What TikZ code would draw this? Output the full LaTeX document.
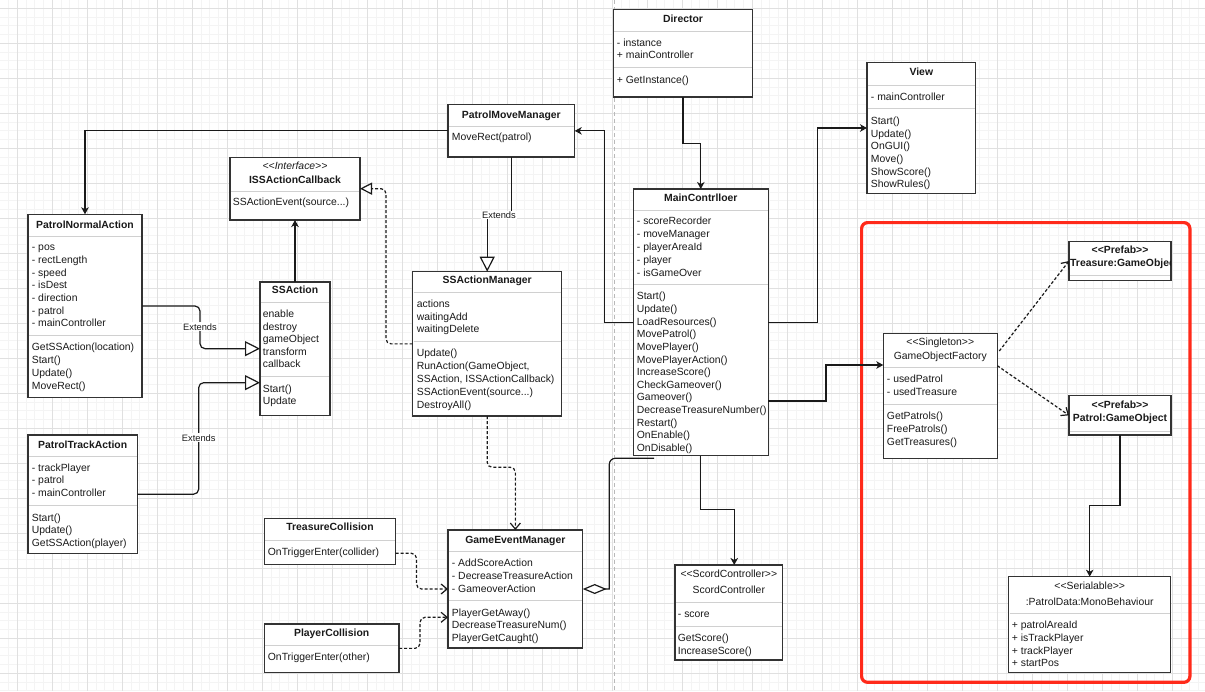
\documentclass[tikz,border=0pt]{standalone}
\usepackage{fontspec}
\setmainfont{Liberation Sans}[Ligatures=TeXOff]
\usetikzlibrary{arrows.meta,calc}
\definecolor{gmaj}{HTML}{E0E0E0}
\definecolor{gmin}{HTML}{F4F4F4}
\definecolor{redbox}{HTML}{FF2A1A}
\definecolor{ink}{HTML}{1A1A1A}
\definecolor{bord}{HTML}{333333}
\definecolor{sepc}{HTML}{D0D0D0}
\newcommand\ddd{...}
\newcommand\uclass[6]{%
  \node[ubox,anchor=north west,minimum width={(#4)-(#2)},minimum height={(#5)-(#3)}] (#1) at (#2,#3) {};
  \foreach \s in {#6} {\draw[usep] ({#2+0.8},\s) -- ({#4-0.8},\s);}}
\newcommand\ulines[5]{\foreach \t [count=\i] in {#5} {\node[txt,anchor=base west] (#1\i) at ({#2},{#3+(\i-1)*#4+3.8}) {\t};}}
\newcommand\uttl[4]{\node[ttl,anchor=base] (#1) at ({#2},{#3+3.8}) {#4};}
\newcommand\ustereo[4]{\node[txt,anchor=base] (#1) at ({#2},{#3+3.8}) {#4};}
\begin{document}
\begin{tikzpicture}[x=1pt,y=-1pt,
 txt/.style={font=\fontsize{10.4}{12}\selectfont, inner sep=0pt, text=ink},
 ttl/.style={txt, font=\fontsize{10.4}{12}\selectfont\bfseries},
 ubox/.style={draw=bord, line width=1.4pt, fill=white, inner sep=0pt, outer sep=0pt, rectangle},
 usep/.style={draw=sepc, line width=1pt},
 conn/.style={draw=ink, line width=1.2pt},
 arr/.style={conn, -{Stealth[length=7pt,width=7.5pt,inset=2pt]}},
 ext/.style={conn, rounded corners=5pt, -{Triangle[open,length=15pt,width=15pt,fill=white]}},
 real/.style={conn, dash pattern=on 3pt off 2pt, rounded corners=5pt, -{Triangle[open,length=12pt,width=12pt,fill=white]}},
 dep/.style={conn, dash pattern=on 3pt off 2pt, rounded corners=5pt, -{Straight Barb[length=6pt,width=10pt]}},
 agg/.style={conn, {Diamond[open,length=24pt,width=10pt,fill=white]}-},
 lbl/.style={font=\fontsize{9.3}{11}\selectfont, fill=white, inner sep=1pt, text=ink},
]
\useasboundingbox (0,0) rectangle (1205,691);
% grid
\begin{scope}
\clip (0,0) rectangle (1205,691);
\fill[white] (0,0) rectangle (1205,691);
\foreach \k in {-2,...,136} \draw[gmin, line width=0.8pt] ({17.3+8.75*\k},0) -- ({17.3+8.75*\k},691);
\foreach \k in {-1,...,78} \draw[gmin, line width=0.8pt] (0,{8.3+8.75*\k}) -- (1205,{8.3+8.75*\k});
\foreach \k in {0,...,34} \draw[gmaj, line width=0.9pt] ({17.3+35*\k},0) -- ({17.3+35*\k},691);
\foreach \k in {0,...,19} \draw[gmaj, line width=0.9pt] (0,{8.3+35*\k}) -- (1205,{8.3+35*\k});
\end{scope}
% divider
\draw[gray!55, line width=0.8pt, dash pattern=on 4pt off 3pt] (614.5,0) -- (614.5,691);
% red group
\node[draw=redbox, line width=3.2pt, rounded corners=6pt, minimum width=328.3pt, minimum height=459.7pt, inner sep=0pt, anchor=north west] (grp) at (860,221) {};

% Director
\uclass{dir}{613.3}{9.7}{752.7}{97}{31.7,67.7}
\uttl{dir-t}{683}{19}{Director}
\ulines{dir-a}{616.7}{42.3}{12.7}{- instance, + mainController}
\ulines{dir-m}{616.7}{79.3}{12.7}{+ GetInstance()}
% PatrolMoveManager
\uclass{pmm}{448}{104.7}{574.7}{157}{126.3}
\uttl{pmm-t}{511.35}{114.3}{PatrolMoveManager}
\ulines{pmm-m}{451.7}{137}{12.7}{MoveRect(patrol)}
% ISSActionCallback
\uclass{iss}{230}{157.3}{360}{220}{191}
\node[txt,anchor=base,font=\fontsize{10.4}{12}\selectfont\itshape] (iss-s) at (295,169.8) {<<Interface>>};
\uttl{iss-t}{295}{179.3}{ISSActionCallback}
\ulines{iss-m}{232.7}{202}{12.7}{SSActionEvent(source\ddd)}
% PatrolNormalAction
\uclass{pna}{28}{214.3}{142}{397.7}{236,335.3}
\uttl{pna-t}{85}{224.3}{PatrolNormalAction}
\ulines{pna-a}{31.7}{247}{12.67}{- pos, - rectLength, - speed, - isDest, - direction, - patrol, - mainController}
\ulines{pna-m}{31.7}{347}{12.77}{GetSSAction(location), Start(), Update(), MoveRect()}
% SSAction
\uclass{ssa}{260}{282}{330}{415.3}{302.3,376.7}
\uttl{ssa-t}{295}{290}{SSAction}
\ulines{ssa-a}{262.7}{314}{12.5}{enable, destroy, gameObject, transform, callback}
\ulines{ssa-m}{262.7}{388.7}{12.3}{Start(), Update}
% SSActionManager
\uclass{ssm}{412.7}{271.7}{561.7}{416}{292.3,341.3}
\uttl{ssm-t}{487.2}{280}{SSActionManager}
\ulines{ssm-a}{416.7}{304}{12.5}{actions, waitingAdd, waitingDelete}
\ulines{ssm-m}{416.7}{352.7}{12.9}{Update(), {RunAction(GameObject,}, {SSAction, ISSActionCallback)}, SSActionEvent(source\ddd), DestroyAll()}
% PatrolTrackAction
\uclass{pta}{28}{435}{137.3}{553.3}{456,505.3}
\uttl{pta-t}{82.65}{444.3}{PatrolTrackAction}
\ulines{pta-a}{31.7}{467.3}{12.85}{- trackPlayer, - patrol, - mainController}
\ulines{pta-m}{31.7}{517.3}{12.5}{Start(), Update(), GetSSAction(player)}
% TreasureCollision
\uclass{tc}{264.3}{518.3}{395.7}{564.7}{540}
\uttl{tc-t}{330}{527}{TreasureCollision}
\ulines{tc-m}{267.7}{551.3}{12.7}{OnTriggerEnter(collider)}
% PlayerCollision
\uclass{pc}{264.3}{624}{399}{672.7}{645}
\uttl{pc-t}{331.65}{632.3}{PlayerCollision}
\ulines{pc-m}{267.7}{656.3}{12.7}{OnTriggerEnter(other)}
% GameEventManager
\uclass{gem}{448}{530}{582.7}{648}{551.7,600}
\uttl{gem-t}{515.35}{539.3}{GameEventManager}
\ulines{gem-a}{451.7}{562.3}{13}{- AddScoreAction, - DecreaseTreasureAction, - GameoverAction}
\ulines{gem-m}{451.7}{612.3}{12.5}{PlayerGetAway(), DecreaseTreasureNum(), PlayerGetCaught()}
% MainContrlloer
\uclass{mc}{633.3}{189}{768.3}{455.7}{210,284}
\uttl{mc-t}{700.8}{197.3}{MainContrlloer}
\ulines{mc-a}{636.7}{221}{12.83}{- scoreRecorder, - moveManager, - playerAreaId, - player, - isGameOver}
\ulines{mc-m}{636.7}{296}{12.64}{Start(), Update(), LoadResources(), MovePatrol(), MovePlayer(), MovePlayerAction(), IncreaseScore(), CheckGameover(), Gameover(), DecreaseTreasureNumber(), Restart(), OnEnable(), OnDisable()}
% ScordController
\uclass{sc}{675}{565}{782.7}{660}{602.3,626}
\ustereo{sc-s}{728.85}{573.7}{<<ScordController>>}
\ustereo{sc-t}{728.85}{590}{ScordController}
\ulines{sc-a}{677.7}{613.3}{12.7}{- score}
\ulines{sc-m}{677.7}{637.7}{13.3}{GetScore(), IncreaseScore()}
% View
\uclass{view}{867}{62.7}{975.7}{193.3}{85,108.3}
\uttl{view-t}{921.35}{72}{View}
\ulines{view-a}{870.7}{96.3}{12.7}{- mainController}
\ulines{view-m}{870.7}{120.7}{12.66}{Start(), Update(), OnGUI(), Move(), ShowScore(), ShowRules()}
% GameObjectFactory
\uclass{gof}{883.3}{333.3}{997.3}{458.3}{367.3,404}
\ustereo{gof-s}{940.3}{342}{<<Singleton>>}
\ustereo{gof-t}{940.3}{355.3}{GameObjectFactory}
\ulines{gof-a}{886.7}{379}{12.3}{- usedPatrol, - usedTreasure}
\ulines{gof-m}{886.7}{416}{12.65}{GetPatrols(), FreePatrols(), GetTreasures()}
% Treasure prefab
\uclass{tre}{1069}{241.3}{1171}{280.7}{275}
\uttl{tre-s}{1120}{249.7}{<<Prefab>>}
\begin{scope}
\clip (1069.7,241.3) rectangle (1170.3,280.7);
\node[ttl,anchor=base west] (tre-t) at (1070,266.1) {Treasure:GameObject};
\end{scope}
% Patrol prefab
\uclass{pat}{1069}{395.7}{1171}{435}{431}
\uttl{pat-s}{1120}{405}{<<Prefab>>}
\uttl{pat-t}{1120}{417.3}{Patrol:GameObject}
% PatrolData
\uclass{pd}{1008.7}{576.7}{1170.7}{672.7}{613.3}
\ustereo{pd-s}{1089.7}{585.3}{<<Serialable>>}
\ustereo{pd-t}{1089.7}{601.3}{:PatrolData:MonoBehaviour}
\ulines{pd-a}{1011.7}{625}{12.7}{+ patrolAreaId, + isTrackPlayer, + trackPlayer, + startPos}

% connectors
\draw[arr] (pmm.west) -| (pna.north);
\draw[arr] (ssa.north) -- (iss.south);
\draw[ext] (pna.east) -- ++(58,0) |- (ssa.west);
\node[lbl] (ext1) at (200,326.7) {Extends};
\draw[ext] (pta.east) -- ++(61.4,0) |- ($(ssa.west)+(0,34)$);
\node[lbl] (ext2) at (198.7,437.7) {Extends};
\draw[real] (ssm.west) -- ++(-26.7,0) |- (iss.east);
\draw[ext, rounded corners=0pt] (pmm.south) -- ++(0,58) -| (ssm.north);
\node[lbl] (ext3) at (499,215) {Extends};
\draw[dep] (ssm.south) -- ++(0,51.3) -| (gem.north);
\draw[dep] ($(tc.east)+(0,11.8)$) -- ++(20.8,0) |- (gem.west);
\draw[dep] (pc.east) -- ++(21,0) |- ($(gem.west)+(0,28.3)$);
\draw[arr] (mc.west) -- ++(-29,0) |- (pmm.east);
\draw[arr] (dir.south) -- ++(0,46.3) -| (mc.north);
\draw[arr] (mc.east) -- ++(49,0) |- (view.west);
\draw[arr] ($(mc.east)+(0,78.7)$) -- ++(57.7,0) |- ($(gof.west)+(0,-30.8)$);
\coordinate (aggend) at (654,458.3);
\draw[agg] (gem.east) -- ++(26.6,0) [rounded corners=6pt] |- (aggend);
\draw[arr] (mc.south) -- ++(0,53.6) -| ($(sc.north)+(5.4,0)$);
\draw[dep] ($(gof.north east)+(2,17.7)$) -- (tre.west);
\draw[dep] ($(gof.north east)+(0,32.4)$) -- (pat.west);
\draw[arr] (pat.south) -- ++(0,70.7) -| (pd.north);
\end{tikzpicture}
\end{document}
